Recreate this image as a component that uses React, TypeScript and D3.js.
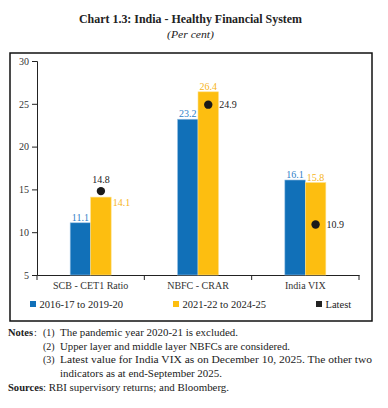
import React, { useEffect, useRef } from 'react';
import * as d3 from 'd3';

const categories = ['SCB - CET1 Ratio', 'NBFC - CRAR', 'India VIX'];
const preCovid = [11.1, 23.2, 16.1];
const postCovid = [14.1, 26.4, 15.8];
const latest = [14.8, 24.9, 10.9];
const yTicks = [5, 10, 15, 20, 25, 30];
const seriesNames = ['2016-17 to 2019-20', '2021-22 to 2024-25', 'Latest'];

const BLUE = '#1170b8';
const YELLOW = '#fdbe10';
const FONT = '"Liberation Serif", "DejaVu Serif", serif';

const App = () => {
  const svgRef = useRef<SVGSVGElement>(null);

  useEffect(() => {
    const svg = d3.select(svgRef.current);
    svg.selectAll('*').remove();
    svg.style('font-family', FONT);

    // title
    svg.append('text')
      .attr('x', 79).attr('y', 23)
      .attr('textLength', 223).attr('lengthAdjust', 'spacingAndGlyphs')
      .style('font-size', '13px').style('font-weight', 'bold')
      .attr('fill', '#222')
      .text('Chart 1.3: India - Healthy Financial System');
    svg.append('text')
      .attr('x', 167).attr('y', 38)
      .attr('textLength', 47).attr('lengthAdjust', 'spacingAndGlyphs')
      .style('font-size', '11px').style('font-style', 'italic')
      .attr('fill', '#222')
      .text('(Per cent)');

    // frame
    svg.append('rect')
      .attr('x', 10).attr('y', 53).attr('width', 362).attr('height', 268)
      .attr('fill', 'none').attr('stroke', '#111').attr('stroke-width', 1.5);

    const x = d3.scaleBand().domain(categories).range([37, 359]);
    const y = d3.scaleLinear().domain([5, 30]).range([275, 61]);
    const barW = 20.5;

    // axes
    const yAxis = svg.append('g')
      .attr('transform', 'translate(37,0)')
      .call(d3.axisLeft(y).tickValues(yTicks).tickSize(5).tickPadding(3));
    yAxis.select('.domain').attr('stroke', '#222');
    yAxis.selectAll('line').attr('stroke', '#222');
    yAxis.selectAll('text').style('font-size', '10px').style('font-family', FONT).attr('fill', '#333');

    const xAxis = svg.append('g')
      .attr('transform', 'translate(0,275)')
      .call(d3.axisBottom(x).tickSize(0).tickPadding(7));
    xAxis.select('.domain').attr('stroke', '#222');
    xAxis.selectAll('text').style('font-size', '10px').style('font-family', FONT).attr('fill', '#333');
    // boundary ticks between categories
    svg.append('g').selectAll('line')
      .data([37, ...categories.map(c => (x(c) as number) + x.bandwidth())])
      .join('line')
      .attr('x1', d => d).attr('x2', d => d)
      .attr('y1', 275).attr('y2', 280)
      .attr('stroke', '#222');

    const cx = (c: string) => (x(c) as number) + x.bandwidth() / 2;

    // bars
    const g = svg.append('g');
    g.selectAll('rect.pre')
      .data(categories)
      .join('rect')
      .attr('x', c => cx(c) - barW)
      .attr('y', (c, i) => y(preCovid[i]))
      .attr('width', barW)
      .attr('height', (c, i) => 275 - y(preCovid[i]))
      .attr('fill', BLUE).attr('stroke', '#9cc3e6').attr('stroke-width', 0.6);
    g.selectAll('rect.post')
      .data(categories)
      .join('rect')
      .attr('x', c => cx(c))
      .attr('y', (c, i) => y(postCovid[i]))
      .attr('width', barW)
      .attr('height', (c, i) => 275 - y(postCovid[i]))
      .attr('fill', YELLOW).attr('stroke', '#fde08a').attr('stroke-width', 0.6);

    // value labels
    const labelSize = '10px';
    svg.append('g').selectAll('text')
      .data(categories)
      .join('text')
      .attr('x', c => cx(c) - barW / 2)
      .attr('y', (c, i) => y(preCovid[i]) - 2)
      .attr('text-anchor', 'middle')
      .style('font-size', labelSize)
      .attr('fill', '#2f7fc8')
      .text((c, i) => preCovid[i].toFixed(1));
    svg.append('g').selectAll('text')
      .data(categories)
      .join('text')
      .attr('x', (c, i) => i === 0 ? cx(c) + barW + 1.5 : cx(c) + barW / 2)
      .attr('y', (c, i) => i === 0 ? y(postCovid[i]) + 9 : y(postCovid[i]) - 2)
      .attr('text-anchor', (c, i) => i === 0 ? 'start' : 'middle')
      .style('font-size', labelSize)
      .attr('fill', '#f6b420')
      .text((c, i) => postCovid[i].toFixed(1));

    // latest dots
    svg.append('g').selectAll('circle')
      .data(categories)
      .join('circle')
      .attr('cx', c => cx(c) + barW / 2)
      .attr('cy', (c, i) => y(latest[i]))
      .attr('r', 4.2)
      .attr('fill', '#1a1a1a');
    svg.append('g').selectAll('text')
      .data(categories)
      .join('text')
      .attr('x', (c, i) => i === 0 ? cx(c) + barW / 2 : cx(c) + barW / 2 + 11)
      .attr('y', (c, i) => i === 0 ? y(latest[i]) - 8 : y(latest[i]) + 3.5)
      .attr('text-anchor', (c, i) => i === 0 ? 'middle' : 'start')
      .style('font-size', labelSize)
      .attr('fill', '#222')
      .text((c, i) => latest[i].toFixed(1));

    // legend
    const legendX = [30, 173, 316];
    const legendColors = [BLUE, YELLOW, '#222'];
    const lg = svg.append('g').selectAll('g')
      .data(seriesNames)
      .join('g')
      .attr('transform', (d, i) => `translate(${legendX[i]},301)`);
    lg.append('rect').attr('width', 6).attr('height', 6).attr('fill', (d, i) => legendColors[i]);
    lg.append('text')
      .attr('x', 9.5).attr('y', 7)
      .style('font-size', '10.5px')
      .attr('fill', '#222')
      .text(d => d);

    // notes
    const notes = svg.append('g').style('font-size', '10px').attr('fill', '#222');
    notes.append('text').attr('x', 8).attr('y', 336)
      .attr('textLength', 25).attr('lengthAdjust', 'spacingAndGlyphs')
      .style('font-weight', 'bold').text('Notes');
    notes.append('text').attr('x', 34).attr('y', 336).text(':');
    const noteLines = [
      { n: '(1)', t: 'The pandemic year 2020-21 is excluded.', y: 336, w: 178 },
      { n: '(2)', t: 'Upper layer and middle layer NBFCs are considered.', y: 350, w: 230 },
      { n: '(3)', t: 'Latest value for India VIX as on December 10, 2025. The other two', y: 363, w: 312 },
      { n: '', t: 'indicators as at end-September 2025.', y: 377, w: 162 },
    ];
    noteLines.forEach(l => {
      if (l.n) notes.append('text').attr('x', 43).attr('y', l.y).text(l.n);
      notes.append('text').attr('x', 60).attr('y', l.y)
        .attr('textLength', l.w).attr('lengthAdjust', 'spacingAndGlyphs')
        .text(l.t);
    });
    notes.append('text').attr('x', 8).attr('y', 391)
      .attr('textLength', 35).attr('lengthAdjust', 'spacingAndGlyphs')
      .style('font-weight', 'bold').text('Sources');
    notes.append('text').attr('x', 43).attr('y', 391)
      .attr('textLength', 186).attr('lengthAdjust', 'spacingAndGlyphs')
      .text(': RBI supervisory returns; and Bloomberg.');
  }, []);

  return (
    <svg ref={svgRef} width={388} height={408} style={{ position: 'absolute', left: 0, top: 0, background: '#fff' }} />
  );
};

export default App;
